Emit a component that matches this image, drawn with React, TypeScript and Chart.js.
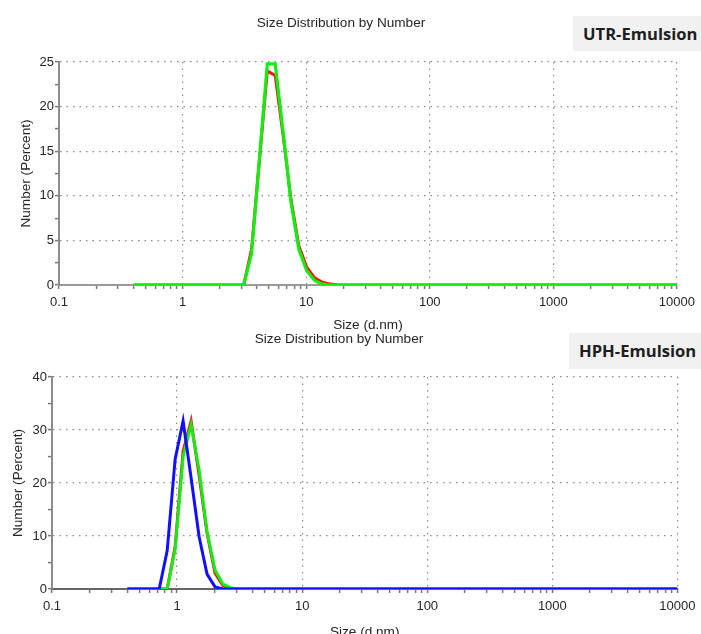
import React, { useEffect, useRef } from 'react';
import { Chart, registerables } from 'chart.js';

Chart.register(...registerables);

// Zetasizer size classes (d.nm)
const sizeBins = [
  0.4, 0.4632, 0.5365, 0.6213, 0.7195, 0.8332, 0.9649, 1.117, 1.294, 1.499,
  1.736, 2.01, 2.328, 2.696, 3.122, 3.615, 4.187, 4.849, 5.615, 6.503,
  7.531, 8.721, 10.1, 11.7, 13.54, 15.69, 18.17, 21.04, 24.36, 28.21,
  32.67, 37.84, 43.82, 50.75, 58.77, 68.06, 78.82, 91.28, 105.7, 122.4,
  141.8, 164.2, 190.1, 220.2, 255.0, 295.3, 342.0, 396.1, 458.7, 531.2,
  615.1, 712.4, 825.0, 955.4, 1106, 1281, 1484, 1718, 1990, 2305,
  2669, 3091, 3580, 4145, 4801, 5560, 6439, 7456, 8635, 10000,
];

const utrRed = [
  0, 0, 0, 0, 0, 0, 0, 0, 0, 0,
  0, 0, 0, 0, 0, 4.0, 14.0, 24.0, 23.5, 16.8,
  9.6, 4.4, 2.0, 0.8, 0.3, 0.1, 0, 0, 0, 0,
  0, 0, 0, 0, 0, 0, 0, 0, 0, 0,
  0, 0, 0, 0, 0, 0, 0, 0, 0, 0,
  0, 0, 0, 0, 0, 0, 0, 0, 0, 0,
  0, 0, 0, 0, 0, 0, 0, 0, 0, 0,
];

const utrGreen = [
  0, 0, 0, 0, 0, 0, 0, 0, 0, 0,
  0, 0, 0, 0, 0, 3.5, 14.2, 24.8, 24.8, 17.2,
  9.3, 4.0, 1.6, 0.5, 0.1, 0, 0, 0, 0, 0,
  0, 0, 0, 0, 0, 0, 0, 0, 0, 0,
  0, 0, 0, 0, 0, 0, 0, 0, 0, 0,
  0, 0, 0, 0, 0, 0, 0, 0, 0, 0,
  0, 0, 0, 0, 0, 0, 0, 0, 0, 0,
];

const hphRed = [
  0, 0, 0, 0, 0, 0, 8.0, 26.0, 31.7, 21.5,
  10.5, 3.0, 0.6, 0.1, 0, 0, 0, 0, 0, 0,
  0, 0, 0, 0, 0, 0, 0, 0, 0, 0,
  0, 0, 0, 0, 0, 0, 0, 0, 0, 0,
  0, 0, 0, 0, 0, 0, 0, 0, 0, 0,
  0, 0, 0, 0, 0, 0, 0, 0, 0, 0,
  0, 0, 0, 0, 0, 0, 0, 0, 0, 0,
];

const hphGreen = [
  0, 0, 0, 0, 0, 0, 7.5, 25.0, 31.0, 22.5,
  10.8, 3.6, 0.9, 0.2, 0, 0, 0, 0, 0, 0,
  0, 0, 0, 0, 0, 0, 0, 0, 0, 0,
  0, 0, 0, 0, 0, 0, 0, 0, 0, 0,
  0, 0, 0, 0, 0, 0, 0, 0, 0, 0,
  0, 0, 0, 0, 0, 0, 0, 0, 0, 0,
  0, 0, 0, 0, 0, 0, 0, 0, 0, 0,
];

const hphBlue = [
  0, 0, 0, 0, 0, 7.2, 24.5, 31.7, 21.0, 9.9,
  2.8, 0.4, 0, 0, 0, 0, 0, 0, 0, 0,
  0, 0, 0, 0, 0, 0, 0, 0, 0, 0,
  0, 0, 0, 0, 0, 0, 0, 0, 0, 0,
  0, 0, 0, 0, 0, 0, 0, 0, 0, 0,
  0, 0, 0, 0, 0, 0, 0, 0, 0, 0,
  0, 0, 0, 0, 0, 0, 0, 0, 0, 0,
];

const xMajorTicks = [0.1, 1, 10, 100, 1000, 10000];
const xTickLabels = ['0.1', '1', '10', '100', '1000', '10000'];
const xMinorMultipliers = [2, 3, 4, 5, 6, 7, 8, 9];

const utrYTicks = [0, 2.5, 5, 7.5, 10, 12.5, 15, 17.5, 20, 22.5, 25];
const utrYLabels = [0, 5, 10, 15, 20, 25];
const hphYTicks = [0, 5, 10, 15, 20, 25, 30, 35, 40];
const hphYLabels = [0, 10, 20, 30, 40];

const FONT = "'Liberation Sans', Arial, Helvetica, sans-serif";
const TEXT = '#262626';
const GRID = '#8a8a8a';
const TICKC = '#777777';

const xTickValues: number[] = [];
xMajorTicks.forEach((m, i) => {
  xTickValues.push(m);
  if (i < xMajorTicks.length - 1) xMinorMultipliers.forEach((k) => xTickValues.push(m * k));
});

function majorIndex(v: number) {
  return xMajorTicks.findIndex((m) => Math.abs(v - m) / m < 1e-6);
}

type Series = { values: number[]; color: string; width: number };

function buildConfig(p: {
  title: string;
  series: Series[];
  yMax: number;
  yTicks: number[];
  yLabels: number[];
  padRight: number;
  titleTop: number;
  titleBottom: number;
  xHeight: number;
  xTickPad: number;
  xTitleBottom: number;
  yWidth: number;
  yTitlePad: number;
  xBorder: string;
}): any {
  const font = { family: FONT, size: 13 };
  const titleFont = { family: FONT, size: 13.6, weight: 'normal' };
  return {
    type: 'line',
    data: {
      datasets: p.series.map((s) => ({
        data: sizeBins.map((x, i) => ({ x, y: s.values[i] })),
        borderColor: s.color,
        backgroundColor: s.color,
        borderWidth: s.width,
        pointRadius: 0,
        tension: 0,
        fill: false,
      })),
    },
    options: {
      animation: false,
      responsive: false,
      events: [],
      layout: { padding: { left: 0, right: p.padRight, top: 0, bottom: 0 } },
      plugins: {
        legend: { display: false },
        tooltip: { enabled: false },
        title: {
          display: true,
          text: p.title,
          color: TEXT,
          font: titleFont,
          padding: { top: p.titleTop, bottom: p.titleBottom },
        },
      },
      scales: {
        x: {
          type: 'logarithmic',
          min: 0.1,
          max: 10000,
          afterBuildTicks: (s: any) => {
            s.ticks = xTickValues.map((v) => ({ value: v, major: false }));
          },
          afterFit: (s: any) => {
            s.height = p.xHeight;
          },
          ticks: {
            autoSkip: false,
            maxRotation: 0,
            minRotation: 0,
            padding: p.xTickPad,
            color: TEXT,
            font,
            callback: (v: number) => {
              const i = majorIndex(Number(v));
              return i >= 0 ? xTickLabels[i] : '';
            },
          },
          grid: {
            color: (c: any) => (c.tick && majorIndex(c.tick.value) >= 0 ? GRID : 'rgba(0,0,0,0)'),
            lineWidth: 1.2,
            tickColor: TICKC,
            tickWidth: 1.5,
            tickLength: 4,
            tickBorderDash: [],
          },
          border: { display: true, color: p.xBorder, width: 2, dash: [1.5, 5] },
          title: {
            display: true,
            text: 'Size (d.nm)',
            color: TEXT,
            font: titleFont,
            padding: { top: 0, bottom: p.xTitleBottom },
          },
        },
        y: {
          type: 'linear',
          min: 0,
          max: p.yMax,
          afterBuildTicks: (s: any) => {
            s.ticks = p.yTicks.map((v) => ({ value: v }));
          },
          afterFit: (s: any) => {
            s.width = p.yWidth;
          },
          ticks: {
            autoSkip: false,
            padding: 1,
            color: TEXT,
            font,
            callback: (v: number) => (p.yLabels.includes(Number(v)) ? String(v) : ''),
          },
          grid: {
            color: (c: any) => (c.tick && p.yLabels.includes(c.tick.value) ? GRID : 'rgba(0,0,0,0)'),
            lineWidth: 1.2,
            tickColor: TICKC,
            tickWidth: 1.5,
            tickLength: 4,
            tickBorderDash: [],
          },
          border: { display: true, color: '#8c8c8c', width: 2, dash: [1.5, 5] },
          title: {
            display: true,
            text: 'Number (Percent)',
            color: TEXT,
            font: titleFont,
            padding: { top: p.yTitlePad, bottom: 0 },
          },
        },
      },
    },
  };
}

const boxStyle = (left: number, top: number, h: number): React.CSSProperties => ({
  position: 'absolute',
  left,
  top,
  width: 701 - left,
  height: h,
  lineHeight: h + 'px',
  background: '#f1f1f1',
  boxSizing: 'border-box',
  paddingLeft: 10,
  fontFamily: "'Open Sans', 'Noto Sans', sans-serif",
  fontWeight: 700,
  fontSize: 16.6,
  color: '#1e1e1e',
  whiteSpace: 'nowrap',
});

export default function App() {
  const topRef = useRef<HTMLCanvasElement>(null);
  const botRef = useRef<HTMLCanvasElement>(null);

  useEffect(() => {
    const c1 = new Chart(
      topRef.current!,
      buildConfig({
        title: 'Size Distribution by Number',
        series: [
          { values: utrGreen, color: '#12ee12', width: 3.2 },
          { values: utrRed, color: '#ff1010', width: 3 },
        ],
        yMax: 25,
        yTicks: utrYTicks,
        yLabels: utrYLabels,
        padRight: 19,
        titleTop: 14.84,
        titleBottom: 30.84,
        xHeight: 48,
        xTickPad: 6,
        xTitleBottom: 0,
        yWidth: 59,
        yTitlePad: 17.84,
        xBorder: '#9a9a9a',
      })
    );
    const c2 = new Chart(
      botRef.current!,
      buildConfig({
        title: 'Size Distribution by Number',
        series: [
          { values: hphBlue, color: '#1010ff', width: 3 },
          { values: hphGreen, color: '#12ee12', width: 3 },
          { values: hphRed, color: '#ff1010', width: 3 },
        ],
        yMax: 40,
        yTicks: hphYTicks,
        yLabels: hphYLabels,
        padRight: 23,
        titleTop: 4.84,
        titleBottom: 29.84,
        xHeight: 55,
        xTickPad: 5.5,
        xTitleBottom: 3.84,
        yWidth: 52,
        yTitlePad: 10.14,
        xBorder: '#666666',
      })
    );
    return () => {
      c1.destroy();
      c2.destroy();
    };
  }, []);

  return (
    <div
      style={{
        position: 'absolute',
        left: 0,
        top: 0,
        width: 701,
        height: 634,
        overflow: 'hidden',
        background: '#ffffff',
      }}
    >
      <canvas ref={topRef} width={701} height={333} style={{ position: 'absolute', left: 0, top: 0 }} />
      <canvas ref={botRef} width={701} height={318} style={{ position: 'absolute', left: 0, top: 326 }} />
      <div style={boxStyle(573, 16, 35)}>UTR-Emulsion</div>
      <div style={boxStyle(569, 333, 36)}>HPH-Emulsion</div>
    </div>
  );
}
